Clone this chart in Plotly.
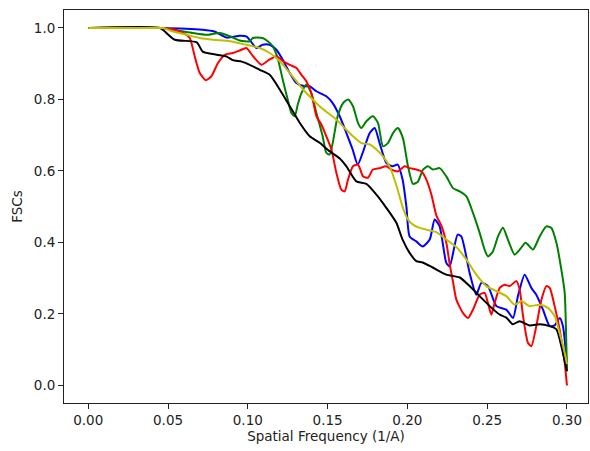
import plotly.graph_objects as go

# ---- data (spatial frequency in 1/A, FSC values) ----
blue_x = [0.0, 0.0448, 0.0717, 0.079, 0.0868, 0.0949, 0.0993, 0.1054, 0.1093, 0.1137, 0.1179, 0.1219,
          0.1263, 0.1304, 0.1357, 0.1388, 0.143, 0.1492, 0.1532, 0.1576, 0.1618, 0.1657, 0.1689, 0.172,
          0.1764, 0.1795, 0.1826, 0.1868, 0.1908, 0.1939, 0.197, 0.1994, 0.2014, 0.2056, 0.2096, 0.214,
          0.2171, 0.2202, 0.2244, 0.2265, 0.2315, 0.2338, 0.239, 0.2432, 0.2464, 0.2505, 0.2558, 0.262,
          0.2662, 0.2693, 0.2735, 0.2777, 0.2808, 0.285, 0.2892, 0.2923, 0.2955, 0.2975, 0.2992, 0.3]
blue_y = [1.0, 1.0, 0.995, 0.99, 0.973, 0.978, 0.976, 0.944, 0.953, 0.953, 0.939, 0.911,
          0.874, 0.846, 0.837, 0.837, 0.823, 0.809, 0.79, 0.753, 0.706, 0.66, 0.618, 0.651,
          0.706, 0.72, 0.678, 0.623, 0.613, 0.618, 0.576, 0.50, 0.417, 0.403, 0.389, 0.408,
          0.464, 0.445, 0.343, 0.333, 0.422, 0.417, 0.315, 0.254, 0.287, 0.278, 0.222, 0.212,
          0.189, 0.25, 0.31, 0.273, 0.254, 0.212, 0.166, 0.168, 0.189, 0.166, 0.10, 0.05]

green_x = [0.0, 0.0448, 0.056, 0.0655, 0.0742, 0.0824, 0.0887, 0.0949, 0.1012, 0.1031, 0.1093, 0.1125,
           0.1156, 0.1187, 0.1219, 0.125, 0.1273, 0.1294, 0.1313, 0.1336, 0.1367, 0.1398, 0.143, 0.1469,
           0.1492, 0.1513, 0.1532, 0.1563, 0.1597, 0.1628, 0.1659, 0.1691, 0.1712, 0.1743, 0.1784, 0.1816,
           0.1847, 0.1878, 0.191, 0.1941, 0.1972, 0.2004, 0.2035, 0.2066, 0.2098, 0.2129, 0.216, 0.2202,
           0.2244, 0.2286, 0.2328, 0.237, 0.2411, 0.2453, 0.2484, 0.2505, 0.2536, 0.2568, 0.2599, 0.263,
           0.2672, 0.2704, 0.2741, 0.2787, 0.2829, 0.2871, 0.2902, 0.2934, 0.2965, 0.2986, 0.2996, 0.3]
green_y = [1.0, 1.0, 0.993, 0.986, 0.981, 0.986, 0.977, 0.965, 0.963, 0.972, 0.972, 0.963,
           0.949, 0.916, 0.855, 0.80, 0.762, 0.753, 0.786, 0.818, 0.842, 0.818, 0.762, 0.697,
           0.651, 0.646, 0.678, 0.753, 0.79, 0.80, 0.781, 0.734, 0.72, 0.739, 0.753, 0.734,
           0.669, 0.678, 0.706, 0.72, 0.692, 0.613, 0.564, 0.57, 0.604, 0.613, 0.604, 0.608,
           0.585, 0.552, 0.543, 0.529, 0.483, 0.427, 0.38, 0.361, 0.375, 0.417, 0.441, 0.408,
           0.366, 0.38, 0.399, 0.38, 0.417, 0.445, 0.441, 0.399, 0.324, 0.259, 0.12, 0.04]

red_x = [0.0, 0.0448, 0.0542, 0.0594, 0.0636, 0.0667, 0.0699, 0.0736, 0.0772, 0.0813, 0.0855, 0.0907,
         0.0949, 0.0991, 0.1033, 0.1085, 0.1127, 0.1179, 0.1221, 0.1263, 0.1305, 0.1336, 0.1367, 0.1398,
         0.143, 0.1461, 0.1492, 0.1524, 0.1555, 0.1586, 0.1607, 0.1628, 0.1659, 0.1691, 0.1722, 0.1753,
         0.1784, 0.1826, 0.1868, 0.19, 0.1941, 0.1983, 0.2014, 0.2056, 0.2088, 0.2119, 0.215, 0.2182,
         0.2213, 0.2244, 0.2265, 0.2286, 0.2307, 0.2348, 0.238, 0.2411, 0.2453, 0.2484, 0.2505, 0.2526,
         0.2547, 0.2579, 0.261, 0.2641, 0.2683, 0.2704, 0.2725, 0.2756, 0.2777, 0.2808, 0.284, 0.2871,
         0.2892, 0.2923, 0.2954, 0.2986, 0.3]
red_y = [1.0, 1.0, 0.995, 0.986, 0.972, 0.921, 0.874, 0.854, 0.865, 0.902, 0.925, 0.93,
         0.937, 0.944, 0.921, 0.897, 0.909, 0.921, 0.907, 0.897, 0.888, 0.869, 0.851, 0.818,
         0.753, 0.73, 0.697, 0.66, 0.595, 0.548, 0.543, 0.576, 0.613, 0.618, 0.585, 0.581,
         0.604, 0.608, 0.613, 0.604, 0.599, 0.613, 0.608, 0.604, 0.599, 0.576, 0.535, 0.475,
         0.447, 0.399, 0.34, 0.29, 0.24, 0.203, 0.189, 0.212, 0.254, 0.259, 0.231, 0.198,
         0.231, 0.273, 0.282, 0.278, 0.292, 0.268, 0.194, 0.119, 0.11, 0.166, 0.24, 0.278,
         0.273, 0.222, 0.157, 0.064, 0.0]

black_x = [0.0, 0.045, 0.048, 0.0542, 0.068, 0.0717, 0.0805, 0.0868, 0.0906, 0.0962, 0.1012, 0.1075,
           0.1137, 0.12, 0.1263, 0.1325, 0.1388, 0.145, 0.1513, 0.1576, 0.1618, 0.168, 0.1743, 0.1806,
           0.1868, 0.1931, 0.197, 0.2014, 0.2056, 0.2096, 0.2159, 0.2244, 0.2328, 0.239, 0.2453, 0.2516,
           0.2579, 0.262, 0.266, 0.2703, 0.2766, 0.2829, 0.2891, 0.2934, 0.2965, 0.3]
black_y = [1.0, 1.0, 0.99, 0.967, 0.96, 0.934, 0.925, 0.92, 0.91, 0.906, 0.897, 0.883,
           0.869, 0.828, 0.781, 0.735, 0.697, 0.679, 0.655, 0.635, 0.613, 0.571, 0.564, 0.534,
           0.497, 0.455, 0.408, 0.371, 0.348, 0.344, 0.33, 0.31, 0.302, 0.278, 0.25, 0.222,
           0.198, 0.19, 0.171, 0.18, 0.168, 0.171, 0.166, 0.157, 0.11, 0.04]

yellow_x = [0.0, 0.045, 0.0469, 0.0531, 0.0615, 0.0699, 0.0782, 0.0887, 0.0991, 0.1075, 0.1137, 0.1179,
            0.1221, 0.1263, 0.1305, 0.1346, 0.1398, 0.145, 0.1503, 0.1555, 0.1607, 0.1659, 0.1712, 0.1764,
            0.1806, 0.1847, 0.1889, 0.1931, 0.1972, 0.2004, 0.2035, 0.2077, 0.2119, 0.2182, 0.2244, 0.2307,
            0.237, 0.2432, 0.2495, 0.2558, 0.262, 0.2672, 0.2714, 0.2766, 0.2829, 0.2881, 0.2923, 0.2954,
            0.2986, 0.3]
yellow_y = [1.0, 1.0, 1.0, 0.99, 0.981, 0.972, 0.967, 0.963, 0.953, 0.944, 0.93, 0.916,
            0.897, 0.874, 0.851, 0.828, 0.804, 0.781, 0.762, 0.744, 0.72, 0.697, 0.678, 0.674,
            0.66, 0.641, 0.613, 0.56, 0.497, 0.464, 0.45, 0.441, 0.436, 0.429, 0.408, 0.387,
            0.352, 0.31, 0.278, 0.264, 0.25, 0.226, 0.236, 0.222, 0.226, 0.217, 0.194, 0.147,
            0.091, 0.06]

x_ticks = [0.0, 0.05, 0.10, 0.15, 0.20, 0.25, 0.30]
y_ticks = [0.0, 0.2, 0.4, 0.6, 0.8, 1.0]

series = [
    (blue_x, blue_y, "#0000ff"),
    (green_x, green_y, "#008000"),
    (red_x, red_y, "#ff0000"),
    (black_x, black_y, "#000000"),
    (yellow_x, yellow_y, "#bfbf00"),
]

fig = go.Figure()
for xs, ys, col in series:
    fig.add_trace(go.Scatter(x=xs, y=ys, mode="lines",
                             line=dict(color=col, width=2, shape="spline", smoothing=0.6),
                             showlegend=False))

font = dict(family="DejaVu Sans", size=13.5, color="#222222")
axis_common = dict(showline=True, mirror=True, linecolor="#222222", linewidth=1,
                   ticks="outside", ticklen=5, tickwidth=1, tickcolor="#222222",
                   showgrid=False, zeroline=False, tickfont=font)

fig.update_layout(
    width=590, height=451,
    margin=dict(l=64, r=2, t=10, b=48),
    paper_bgcolor="white", plot_bgcolor="white",
    font=font,
    xaxis=dict(range=[-0.0152, 0.3132], tickvals=x_ticks, tickformat=".2f",
               title=dict(text="Spatial Frequency (1/A)", font=font, standoff=4),
               **axis_common),
    yaxis=dict(range=[-0.049, 1.0503], tickvals=y_ticks, tickformat=".1f",
               title=dict(text="FSCs", font=font, standoff=8),
               **axis_common),
)

fig.write_html("out.html",
               config={"displayModeBar": False},
               post_script="document.body.style.margin='0';document.body.style.padding='0';")
